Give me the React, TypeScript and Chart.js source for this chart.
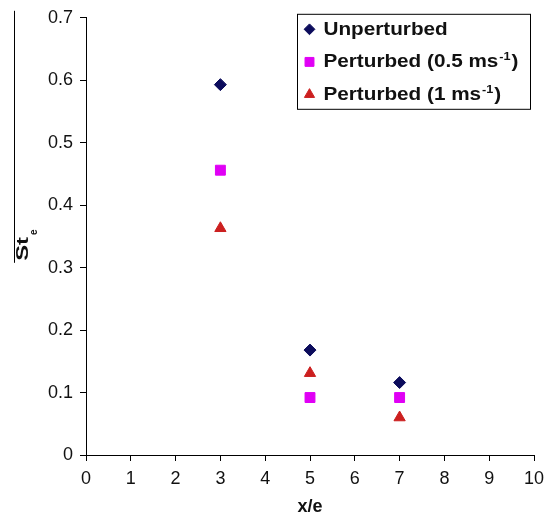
import React, { useEffect, useRef } from 'react';
import { Chart, registerables } from 'chart.js';
import { drawPoint } from 'chart.js/helpers';

Chart.register(...registerables);

const xValues = [3, 5, 7];
const unperturbed = [0.593, 0.168, 0.116];
const perturbedHalf = [0.456, 0.092, 0.092];
const perturbedOne = [0.363, 0.131, 0.06];
const seriesLabels = ['Unperturbed', 'Perturbed (0.5 ms⁻¹)', 'Perturbed (1 ms⁻¹)'];
const seriesColors = ['#0c0c5c', '#e000f5', '#cc1f1f'];
const seriesShapes = ['rectRot', 'rect', 'triangle'];
const seriesRadius = [6, 7, 6.5];
const xTickLabels = ['0', '1', '2', '3', '4', '5', '6', '7', '8', '9', '10'];
const yTickLabels = ['0', '0.1', '0.2', '0.3', '0.4', '0.5', '0.6', '0.7'];
const xTitle = 'x/e';
const yTitleMain = 'St';
const yTitleSub = 'e';

const FONT = '"Liberation Sans", Arial, sans-serif';

const decorPlugin = {
  id: 'decor',
  afterDraw(chart: any) {
    const ctx = chart.ctx as CanvasRenderingContext2D;
    const area = chart.chartArea;
    ctx.save();
    // Y axis title: overlined St with subscript e
    ctx.strokeStyle = '#000';
    ctx.lineWidth = 1;
    ctx.beginPath();
    ctx.moveTo(14.5, area.top - 7);
    ctx.lineTo(14.5, area.top + 245);
    ctx.stroke();
    ctx.save();
    ctx.translate(28, area.top + 243);
    ctx.rotate(-Math.PI / 2);
    ctx.fillStyle = '#111';
    ctx.textBaseline = 'alphabetic';
    ctx.textAlign = 'left';
    ctx.save();
    ctx.scale(1.4, 1);
    ctx.font = `bold 17px ${FONT}`;
    ctx.fillText(yTitleMain, 0, 0);
    const w = ctx.measureText(yTitleMain).width * 1.4;
    ctx.restore();
    ctx.font = `bold 10px ${FONT}`;
    ctx.fillText(yTitleSub, w + 2, 9);
    ctx.restore();

    // Legend box
    const boxRight = area.right - 3.5;
    const boxLeft = boxRight - 233;
    const boxTop = area.top - 3.5;
    const boxH = 95;
    ctx.strokeStyle = '#000';
    ctx.lineWidth = 1;
    ctx.strokeRect(boxLeft, boxTop, 233, boxH);
    const sx = 1.15;
    seriesLabels.forEach((label, i) => {
      const base = boxTop + 20.5 + i * 32.6;
      const my = base - 5.5;
      ctx.fillStyle = seriesColors[i];
      ctx.strokeStyle = seriesColors[i];
      drawPoint(ctx, { pointStyle: seriesShapes[i] as any, radius: seriesRadius[i] * 0.9, rotation: 0, borderWidth: 1 }, boxLeft + 12, my);
      ctx.fillStyle = '#111';
      ctx.textBaseline = 'alphabetic';
      ctx.textAlign = 'left';
      const parts = label.split('⁻¹');
      let x = boxLeft + 26;
      const drawSeg = (t: string, size: number, dy: number) => {
        ctx.save();
        ctx.font = `bold ${size}px ${FONT}`;
        ctx.translate(x, base + dy);
        ctx.scale(sx, 1);
        ctx.fillText(t, 0, 0);
        const ww = ctx.measureText(t).width * sx;
        ctx.restore();
        x += ww;
      };
      drawSeg(parts[0], 18, 0);
      if (parts.length > 1) {
        x += 1;
        drawSeg('-1', 11, -7);
        x += 1;
        drawSeg(parts[1], 18, 0);
      }
    });
    ctx.restore();
  },
};

export default function App() {
  const ref = useRef<HTMLCanvasElement>(null);
  useEffect(() => {
    document.body.style.margin = '0';
    const datasets = [unperturbed, perturbedHalf, perturbedOne].map((vals, i) => ({
      label: seriesLabels[i],
      data: vals.map((v, j) => ({ x: xValues[j], y: v })),
      backgroundColor: seriesColors[i],
      borderColor: seriesColors[i],
      pointStyle: seriesShapes[i],
      pointRadius: seriesRadius[i],
      pointBorderWidth: 1,
      showLine: false,
    }));
    const chart = new Chart(ref.current!, {
      type: 'scatter',
      data: { datasets } as any,
      plugins: [decorPlugin],
      options: {
        animation: false,
        responsive: true,
        maintainAspectRatio: false,
        layout: { padding: { top: 15, right: 19, left: 0, bottom: 0 } },
        plugins: { legend: { display: false }, tooltip: { enabled: false } },
        scales: {
          x: {
            type: 'linear',
            min: 0,
            max: 10,
            afterFit: (s: any) => { s.height = 64; },
            ticks: {
              stepSize: 1,
              color: '#111',
              padding: 7,
              font: { family: FONT, size: 18 },
              callback: (v: any) => xTickLabels[Math.round(Number(v))],
            },
            grid: { display: true, drawOnChartArea: false, drawTicks: true, tickLength: 6, color: '#000' },
            border: { display: true, color: '#000', width: 1 },
            title: {
              display: true,
              text: xTitle,
              color: '#111',
              font: { family: FONT, size: 18, weight: 'bold' },
              padding: { top: 0, bottom: 1 },
            },
          },
          y: {
            type: 'linear',
            min: 0,
            max: 0.7,
            afterFit: (s: any) => { s.width = 86; },
            ticks: {
              stepSize: 0.1,
              color: '#111',
              padding: 7,
              font: { family: FONT, size: 18 },
              callback: (v: any) => yTickLabels[Math.round(Number(v) * 10)],
            },
            grid: { display: true, drawOnChartArea: false, drawTicks: true, tickLength: 6, color: '#000' },
            border: { display: true, color: '#000', width: 1 },
          },
        },
      } as any,
    });
    return () => chart.destroy();
  }, []);
  return (
    <div style={{ position: 'absolute', left: 0, top: 0, width: 553, height: 519, background: '#fff' }}>
      <canvas ref={ref} />
    </div>
  );
}
